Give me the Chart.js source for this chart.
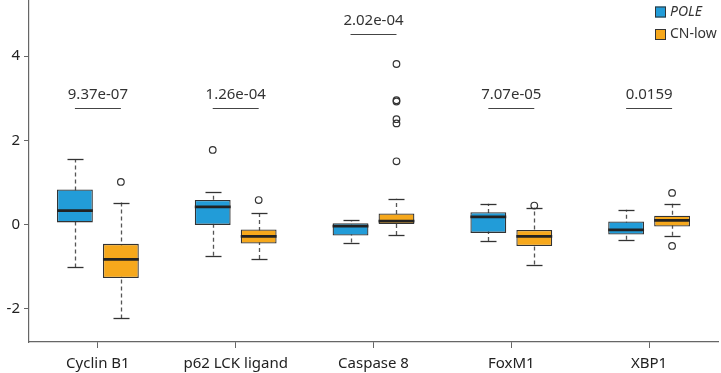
<!DOCTYPE html>
<html>
<head>
<meta charset="utf-8">
<script src="https://cdn.jsdelivr.net/npm/chart.js@4.4.1/dist/chart.umd.min.js"></script>
<style>
    html, body { margin: 0; padding: 0; background: #fff; }
    #wrap { width: 721px; height: 373px; position: relative; }
</style>
</head>
<body>
<div id="wrap"><canvas id="boxChart"></canvas></div>
<script>
// categories and p-values
const categories = ['Cyclin B1', 'p62 LCK ligand', 'Caspase 8', 'FoxM1', 'XBP1'];
const pValues = ['9.37e-07', '1.26e-04', '2.02e-04', '7.07e-05', '0.0159'];
const pLineY = [2.76, 2.76, 4.52, 2.76, 2.76];

// POLE box stats
const poleLow = [-1.02, -0.74, -0.43, -0.39, -0.36];
const poleQ1 = [0.05, -0.01, -0.26, -0.20, -0.24];
const poleMedian = [0.33, 0.42, -0.04, 0.18, -0.13];
const poleQ3 = [0.83, 0.58, 0.03, 0.29, 0.07];
const poleHigh = [1.55, 0.77, 0.10, 0.49, 0.35];
const poleOutliers = [[], [1.77], [], [], []];

// CN-low box stats
const cnLow = [-2.23, -0.82, -0.25, -0.95, -0.27];
const cnQ1 = [-1.27, -0.45, 0.00, -0.51, -0.05];
const cnMedian = [-0.83, -0.28, 0.08, -0.28, 0.10];
const cnQ3 = [-0.46, -0.12, 0.26, -0.13, 0.21];
const cnHigh = [0.52, 0.28, 0.61, 0.40, 0.49];
const cnOutliers = [[1.01], [0.58], [3.81, 2.95, 2.92, 2.50, 2.40, 1.50], [0.45], [0.75, -0.51]];

const yTicks = [-2, 0, 2, 4];

const BLUE = '#229cd8';
const ORANGE = '#f6a81c';
const FONT = "'Noto Sans', 'DejaVu Sans', sans-serif";

const stats = [
    { low: poleLow, med: poleMedian, high: poleHigh, out: poleOutliers },
    { low: cnLow, med: cnMedian, high: cnHigh, out: cnOutliers }
];

// whiskers, medians, outliers, p-values, legend
const boxPlugin = {
    id: 'boxExtras',
    beforeDatasetsDraw(chart) {
        const ctx = chart.ctx;
        const y = chart.scales.y;
        ctx.save();
        stats.forEach((s, di) => {
            chart.getDatasetMeta(di).data.forEach((bar, i) => {
                const x = Math.round(bar.x) + 0.5;
                // dashed whisker
                ctx.strokeStyle = '#555';
                ctx.lineWidth = 1.3;
                ctx.setLineDash([4, 3]);
                ctx.beginPath();
                ctx.moveTo(x, y.getPixelForValue(s.low[i]));
                ctx.lineTo(x, y.getPixelForValue(s.high[i]));
                ctx.stroke();
                // caps
                ctx.setLineDash([]);
                ctx.strokeStyle = '#333';
                [s.low[i], s.high[i]].forEach(v => {
                    const py = Math.round(y.getPixelForValue(v)) + 0.5;
                    ctx.beginPath();
                    ctx.moveTo(x - 8, py);
                    ctx.lineTo(x + 8, py);
                    ctx.stroke();
                });
            });
        });
        ctx.restore();
    },
    afterDatasetsDraw(chart) {
        const ctx = chart.ctx;
        const y = chart.scales.y;
        const xs = chart.scales.x;
        ctx.save();
        stats.forEach((s, di) => {
            chart.getDatasetMeta(di).data.forEach((bar, i) => {
                const half = bar.width / 2;
                // median
                ctx.strokeStyle = '#222';
                ctx.lineWidth = 2.8;
                ctx.beginPath();
                const my = y.getPixelForValue(s.med[i]);
                ctx.moveTo(bar.x - half, my);
                ctx.lineTo(bar.x + half, my);
                ctx.stroke();
                // outliers
                ctx.lineWidth = 1.2;
                ctx.strokeStyle = '#333';
                s.out[i].forEach(v => {
                    ctx.beginPath();
                    ctx.arc(bar.x, y.getPixelForValue(v), 3.3, 0, Math.PI * 2);
                    ctx.stroke();
                });
            });
        });

        // p-value brackets
        const blueBars = chart.getDatasetMeta(0).data;
        const orangeBars = chart.getDatasetMeta(1).data;
        ctx.font = '15px ' + FONT;
        ctx.fillStyle = '#333';
        ctx.textAlign = 'center';
        ctx.textBaseline = 'middle';
        categories.forEach((c, i) => {
            const ly = Math.round(y.getPixelForValue(pLineY[i])) + 0.5;
            ctx.strokeStyle = '#444';
            ctx.lineWidth = 1.2;
            ctx.beginPath();
            ctx.moveTo(blueBars[i].x, ly);
            ctx.lineTo(orangeBars[i].x, ly);
            ctx.stroke();
            ctx.fillText(pValues[i], xs.getPixelForValue(i), ly - 14);
        });

        // legend
        const items = [
            { label: 'POLE', color: BLUE, italic: true },
            { label: 'CN-low', color: ORANGE, italic: false }
        ];
        ctx.textAlign = 'left';
        items.forEach((it, k) => {
            const cy = 11.5 + k * 22.5;
            ctx.fillStyle = it.color;
            ctx.fillRect(655, cy - 5, 11, 11);
            ctx.strokeStyle = '#333';
            ctx.lineWidth = 1;
            ctx.strokeRect(655.5, cy - 4.5, 10, 10);
            ctx.fillStyle = '#333';
            ctx.font = (it.italic ? 'italic ' : '') + '14px ' + FONT;
            ctx.fillText(it.label, 670, cy + 0.5);
        });
        ctx.restore();
    }
};

document.addEventListener('DOMContentLoaded', function() {
    const ctx = document.getElementById('boxChart').getContext('2d');
    new Chart(ctx, {
        type: 'bar',
        data: {
            labels: categories,
            datasets: [
                {
                    label: 'POLE',
                    data: poleQ1.map((v, i) => [v, poleQ3[i]]),
                    backgroundColor: BLUE,
                    borderColor: '#333',
                    borderWidth: 1.3,
                    borderSkipped: false
                },
                {
                    label: 'CN-low',
                    data: cnQ1.map((v, i) => [v, cnQ3[i]]),
                    backgroundColor: ORANGE,
                    borderColor: '#333',
                    borderWidth: 1.3,
                    borderSkipped: false
                }
            ]
        },
        options: {
            responsive: true,
            maintainAspectRatio: false,
            animation: false,
            categoryPercentage: 0.667,
            barPercentage: 0.78,
            layout: { padding: { top: 0, right: 3, left: 0, bottom: 0 } },
            plugins: {
                legend: { display: false },
                tooltip: { enabled: false }
            },
            scales: {
                x: {
                    offset: true,
                    grid: {
                        display: true,
                        offset: false,
                        drawOnChartArea: false,
                        drawTicks: true,
                        tickLength: 6,
                        color: '#666'
                    },
                    border: { display: true, color: '#666', width: 1.2 },
                    ticks: {
                        color: '#222',
                        font: { size: 15, family: FONT },
                        padding: 7,
                        maxRotation: 0
                    },
                    afterFit: function(scale) {
                        scale.height = 31;
                        scale.paddingLeft = 0;
                        scale.paddingRight = 0;
                    }
                },
                y: {
                    min: -2.79,
                    max: 5.33,
                    grid: {
                        display: true,
                        drawOnChartArea: false,
                        drawTicks: true,
                        tickLength: 5,
                        color: '#666'
                    },
                    border: { display: true, color: '#666', width: 1.2 },
                    ticks: {
                        color: '#222',
                        font: { size: 15, family: FONT },
                        padding: 4
                    },
                    afterBuildTicks: function(scale) {
                        scale.ticks = yTicks.map(v => ({ value: v }));
                    },
                    afterFit: function(scale) {
                        scale.width = 29;
                        scale.paddingTop = 0;
                        scale.paddingBottom = 0;
                    }
                }
            }
        },
        plugins: [boxPlugin]
    });
});
</script>
</body>
</html>
